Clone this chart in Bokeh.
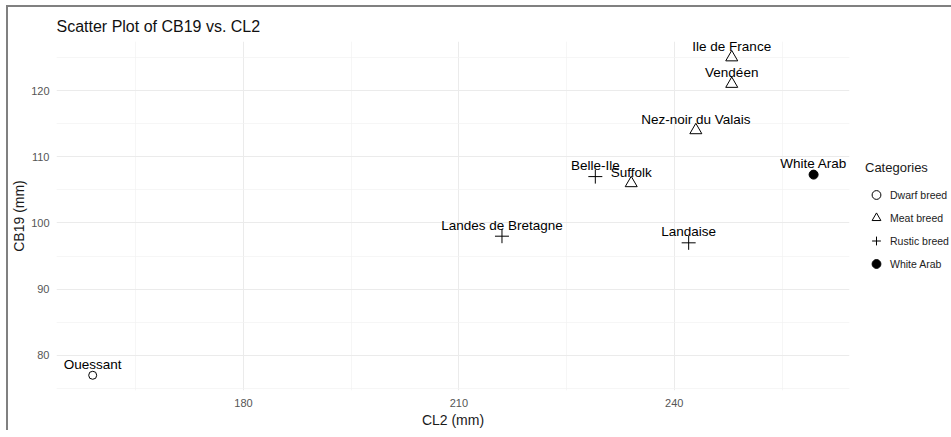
from bokeh.plotting import figure
from bokeh.models import ColumnDataSource, FixedTicker, Legend, LegendItem, Range1d
from bokeh.embed import file_html
from bokeh.resources import INLINE
from bokeh.core.properties import value

# ---- data ----
breeds = ["Ouessant", "Landes de Bretagne", "Landaise", "Belle-Ile", "Suffolk",
          "Nez-noir du Valais", "Vendéen", "Ile de France", "White Arab"]
cl2 = [159, 216, 242, 229, 234, 243, 248, 248, 259.4]
cb19 = [77, 98, 97, 107, 106, 114, 121, 125, 107.3]
category = ["Dwarf breed", "Rustic breed", "Rustic breed", "Rustic breed", "Meat breed",
            "Meat breed", "Meat breed", "Meat breed", "White Arab"]
cat_order = ["Dwarf breed", "Meat breed", "Rustic breed", "White Arab"]
x_ticks = [180, 210, 240]
x_minor = [165, 195, 225, 255]
y_ticks = [80, 90, 100, 110, 120]
y_minor = [75, 85, 95, 105, 115, 125]

FONT = "Liberation Sans"

p = figure(frame_width=793, frame_height=349, output_backend="svg", toolbar_location=None,
           x_range=Range1d(153.96, 264.4), y_range=Range1d(74.7, 127.4),
           min_border_left=47, min_border_right=101, min_border_top=34, min_border_bottom=33,
           title="Scatter Plot of CB19 vs. CL2")
p.outline_line_color = None
p.background_fill_color = "white"
p.border_fill_color = "white"

p.title.text_font = FONT
p.title.text_font_size = "16px"
p.title.text_font_style = "normal"
p.title.text_color = "#111111"
p.title.offset = 0
p.title.standoff = 13

# axes
for ax, ticks, minor, lab in ((p.xaxis[0], x_ticks, x_minor, "CL2 (mm)"),
                              (p.yaxis[0], y_ticks, y_minor, "CB19 (mm)")):
    ax.ticker = FixedTicker(ticks=ticks, minor_ticks=minor)
    ax.axis_label = lab
    ax.axis_line_color = None
    ax.major_tick_line_color = None
    ax.minor_tick_line_color = None
    ax.major_tick_out = 0
    ax.major_tick_in = 0
    ax.minor_tick_out = 0
    ax.minor_tick_in = 0
    ax.major_label_text_font = FONT
    ax.major_label_text_font_size = "11px"
    ax.major_label_text_color = "#555555"
    ax.axis_label_text_font = FONT
    ax.axis_label_text_font_size = "14px"
    ax.axis_label_text_font_style = "normal"
    ax.axis_label_text_color = "#1a1a1a"
p.xaxis[0].major_label_standoff = 8
p.xaxis[0].axis_label_standoff = 2
p.yaxis[0].major_label_standoff = 7
p.yaxis[0].axis_label_standoff = 1

for g in (p.xgrid[0], p.ygrid[0]):
    g.grid_line_color = "#ebebeb"
    g.grid_line_width = 1
    g.minor_grid_line_color = "#f2f2f2"
    g.minor_grid_line_width = 0.7

markers = {"Dwarf breed": "circle", "Meat breed": "triangle", "Rustic breed": "cross",
           "White Arab": "circle"}
sizes = {"Dwarf breed": 8, "Meat breed": 12, "Rustic breed": 14, "White Arab": 9}
fills = {"Dwarf breed": None, "Meat breed": None, "Rustic breed": None, "White Arab": "black"}

items = []
for c in cat_order:
    idx = [i for i, k in enumerate(category) if k == c]
    src = ColumnDataSource(dict(x=[cl2[i] for i in idx], y=[cb19[i] for i in idx]))
    r = p.scatter("x", "y", source=src, marker=markers[c], size=sizes[c],
                  line_color="black", line_width=1.0,
                  fill_color=fills[c], fill_alpha=1 if fills[c] else 0)
    items.append(LegendItem(label=c, renderers=[r]))

lsrc = ColumnDataSource(dict(x=cl2, y=cb19, t=breeds))
p.text("x", "y", text="t", source=lsrc, text_font=value(FONT), text_font_size="13.5px",
       text_align="center", text_baseline="alphabetic", y_offset=-11, text_color="black")

legend = Legend(items=items, location=(16, 115), orientation="vertical")
legend.title = "Categories"
legend.title_text_font = FONT
legend.title_text_font_size = "13px"
legend.title_text_font_style = "normal"
legend.title_text_color = "#1a1a1a"
legend.title_standoff = 8
legend.label_text_font = FONT
legend.label_text_font_size = "10.5px"
legend.label_text_color = "#222222"
legend.glyph_width = 22
legend.glyph_height = 23
legend.label_height = 20
legend.label_standoff = 3
legend.spacing = 0
legend.padding = 0
legend.margin = 0
legend.border_line_color = None
legend.background_fill_alpha = 0
p.add_layout(legend, "right")

p.styles = {"border-left": "2px solid #808080", "border-top": "2px solid #808080",
            "margin-left": "6px", "margin-top": "5px"}

open("out.html", "w").write(file_html(p, INLINE))
